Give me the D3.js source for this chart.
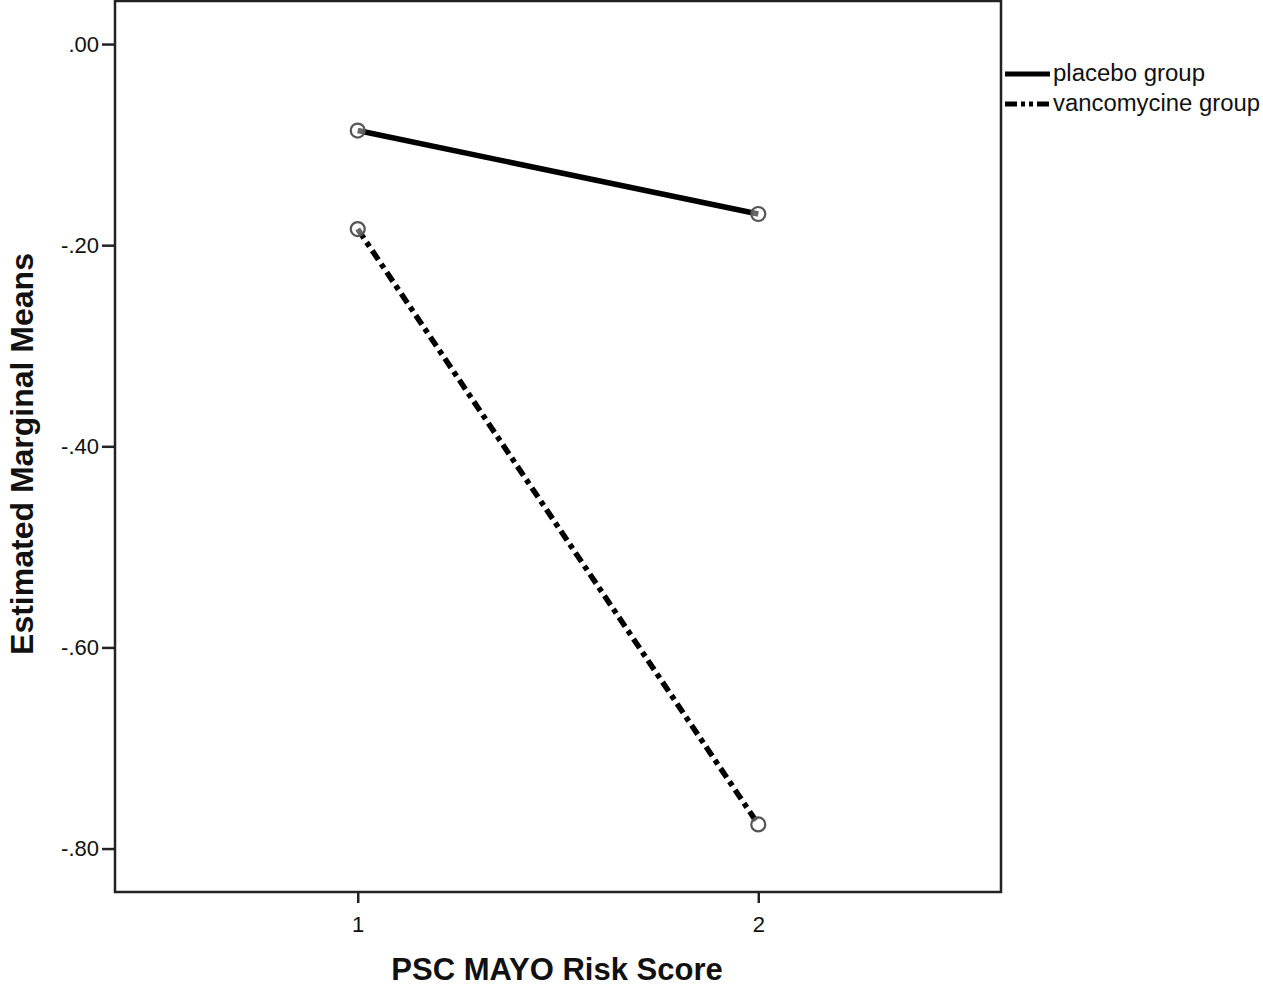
<!DOCTYPE html>
<html>
<head>
  <meta charset="UTF-8" />
  <title>Estimated Marginal Means</title>
  <script src="https://d3js.org/d3.v7.min.js"></script>
  <style>
    body { margin: 0; background: #fff; }
    svg text { font-family: "Liberation Sans", Arial, sans-serif; fill: #111; }
  </style>
</head>
<body>
  <div id="chart"></div>
  <script>
    // data
    const riskScores = [1, 2];
    const placebo = [-0.086, -0.169];
    const vancomycine = [-0.184, -0.776];
    const yTicks = [0, -0.2, -0.4, -0.6, -0.8];
    const seriesNames = ["placebo group", "vancomycine group"];

    const width = 1263, height = 990;
    const m = { left: 115, top: 1, right: 1001, bottom: 892 };

    const svg = d3.select("#chart")
      .append("svg")
      .attr("width", width)
      .attr("height", height);

    const x = d3.scaleLinear()
      .domain([0.394, 2.606])
      .range([m.left, m.right]);
    const y = d3.scaleLinear()
      .domain([0.0428, -0.8432])
      .range([m.top, m.bottom]);

    // frame
    svg.append("rect")
      .attr("x", m.left)
      .attr("y", m.top)
      .attr("width", m.right - m.left)
      .attr("height", m.bottom - m.top)
      .attr("fill", "none")
      .attr("stroke", "#222")
      .attr("stroke-width", 2.5);

    // axes (SPSS style labels: -.20 with a plain hyphen)
    const yAxis = d3.axisLeft(y)
      .tickValues(yTicks)
      .tickSize(13)
      .tickPadding(3)
      .tickFormat(d => (d < 0 ? "-" : "") + Math.abs(d).toFixed(2).replace(/^0/, ""));
    const xAxis = d3.axisBottom(x)
      .tickValues(riskScores)
      .tickSize(11)
      .tickPadding(13)
      .tickFormat(d3.format("d"));

    const gy = svg.append("g")
      .attr("transform", `translate(${m.left},0)`)
      .call(yAxis);
    const gx = svg.append("g")
      .attr("transform", `translate(0,${m.bottom})`)
      .call(xAxis);

    [gx, gy].forEach(g => {
      g.select(".domain").remove();
      g.selectAll(".tick line").attr("stroke", "#222").attr("stroke-width", 2.5);
      g.selectAll(".tick text")
        .attr("fill", "#111")
        .style("font-family", "Liberation Sans, Arial, sans-serif")
        .style("font-size", "22px");
    });

    // axis titles
    svg.append("text")
      .attr("x", 557)
      .attr("y", 980)
      .attr("text-anchor", "middle")
      .style("font-size", "31px")
      .style("font-weight", "bold")
      .text("PSC MAYO Risk Score");

    svg.append("text")
      .attr("transform", "translate(33,454) rotate(-90)")
      .attr("text-anchor", "middle")
      .style("font-size", "32px")
      .style("font-weight", "bold")
      .text("Estimated Marginal Means");

    // lines
    const series = [
      { name: seriesNames[0], values: placebo, dash: null, legendDash: null },
      { name: seriesNames[1], values: vancomycine, dash: "11,5,5,5", legendDash: "12,4,4,4,4,4" }
    ];

    const line = d3.line()
      .x((d, i) => x(riskScores[i]))
      .y(d => y(d));

    series.forEach(s => {
      svg.append("path")
        .datum(s.values)
        .attr("d", line)
        .attr("fill", "none")
        .attr("stroke", "#000")
        .attr("stroke-width", 5.5)
        .attr("stroke-dasharray", s.dash);

      svg.selectAll(null)
        .data(s.values)
        .enter()
        .append("circle")
        .attr("cx", (d, i) => x(riskScores[i]))
        .attr("cy", d => y(d))
        .attr("r", 7)
        .attr("fill", "#fff")
        .attr("fill-opacity", 0.4)
        .attr("stroke", "#555")
        .attr("stroke-width", 2.2);
    });

    // legend
    const legend = svg.append("g");
    series.forEach((s, i) => {
      const ly = 74 + i * 30;
      legend.append("line")
        .attr("x1", 1005).attr("x2", 1050)
        .attr("y1", ly).attr("y2", ly)
        .attr("stroke", "#000")
        .attr("stroke-width", 5)
        .attr("stroke-dasharray", s.legendDash);
      legend.append("text")
        .attr("x", 1053)
        .attr("y", ly + 7)
        .style("font-size", "23px")
        .attr("textLength", i === 0 ? 152 : 207)
        .attr("lengthAdjust", "spacingAndGlyphs")
        .text(s.name);
    });
  </script>
</body>
</html>
